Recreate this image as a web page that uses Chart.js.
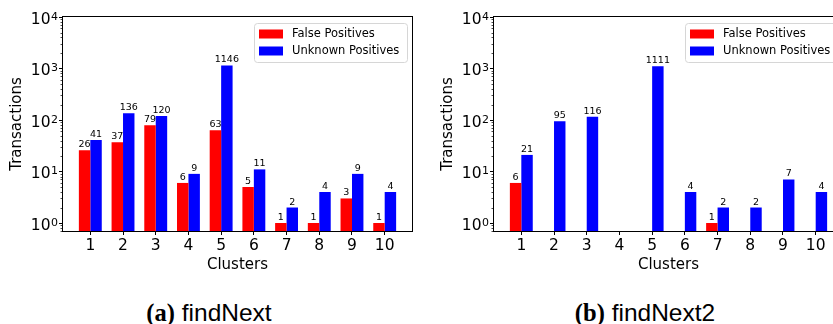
<!DOCTYPE html>
<html>
<head>
<meta charset="utf-8">
<script src="https://cdn.jsdelivr.net/npm/chart.js@4.4.0/dist/chart.umd.min.js"></script>
<style>
  html, body { margin: 0; padding: 0; background: #fff; overflow: hidden; width: 833px; height: 324px; }
  .panel { position: absolute; top: 0; }
  .cap { position: absolute; top: 301px; transform: translateX(-50%); font-family: "Liberation Sans", sans-serif; font-size: 24.5px; line-height: 24px; color: #000; white-space: nowrap; }
  .cap b { font-family: "Liberation Serif", serif; font-weight: bold; }
</style>
</head>
<body>
<canvas id="chartA" class="panel" style="left:0px" width="420" height="280"></canvas>
<canvas id="chartB" class="panel" style="left:431px" width="420" height="280"></canvas>
<div class="cap" style="left:209px"><b>(a)</b> findNext</div>
<div class="cap" style="left:645px"><b>(b)</b> findNext2</div>
<script>
// data
const clusters = [1, 2, 3, 4, 5, 6, 7, 8, 9, 10];
const seriesNames = ['False Positives', 'Unknown Positives'];
const falsePosA = [26, 37, 79, 6, 63, 5, 1, 1, 3, 1];
const unknownPosA = [41, 136, 120, 9, 1146, 11, 2, 4, 9, 4];
const falsePosB = [6, 0, 0, 0, 0, 0, 1, 0, 0, 0];
const unknownPosB = [21, 95, 116, 0, 1111, 4, 2, 2, 7, 4];
const yTicks = [1, 10, 100, 1000, 10000];

const colors = ['#ff0000', '#0000ff'];
const FONT = 'DejaVu Sans';

// frame, minor ticks and 10^n labels on the log axis
const framePlugin = {
  id: 'frame',
  afterDatasetsDraw(chart) {
    const { ctx, chartArea: ca, scales } = chart;
    const y = scales.y;
    ctx.save();
    ctx.strokeStyle = '#000';
    ctx.lineWidth = 1;
    ctx.strokeRect(Math.round(ca.left) - 0.5, Math.round(ca.top) - 0.5,
      Math.round(ca.right - ca.left) + 1, Math.round(ca.bottom - ca.top) + 1);
    ctx.lineWidth = 0.7;
    ctx.beginPath();
    for (let d = 0.1; d < 10000; d *= 10) {
      for (let k = 2; k <= 9; k++) {
        const v = k * d;
        if (v < y.min || v > y.max) continue;
        const py = Math.round(y.getPixelForValue(v)) + 0.5;
        ctx.moveTo(ca.left - 0.5, py);
        ctx.lineTo(ca.left - 2.5, py);
      }
    }
    ctx.stroke();

    // tick labels like mathtext: 10 with a raised exponent
    ctx.fillStyle = '#000';
    ctx.textAlign = 'right';
    ctx.textBaseline = 'alphabetic';
    yTicks.forEach(v => {
      const py = y.getPixelForValue(v);
      const e = String(Math.round(Math.log10(v)));
      const xr = ca.left - 5;
      ctx.font = '11px "' + FONT + '"';
      const sw = ctx.measureText(e).width;
      ctx.fillText(e, xr, py + 2.5);
      ctx.font = '15.5px "' + FONT + '"';
      ctx.fillText('10', xr - sw - 0.5, py + 6.5);
    });
    ctx.restore();
  }
};

// numbers above the bars
const valuePlugin = {
  id: 'values',
  afterDatasetsDraw(chart) {
    const { ctx } = chart;
    ctx.save();
    ctx.font = '9.5px "' + FONT + '"';
    ctx.fillStyle = '#000';
    ctx.textAlign = 'center';
    ctx.textBaseline = 'alphabetic';
    chart.data.datasets.forEach((ds, i) => {
      const meta = chart.getDatasetMeta(i);
      meta.data.forEach((bar, j) => {
        const v = ds.data[j].y;
        if (v == null) return;
        ctx.fillText(String(v), bar.x, bar.y - 3);
      });
    });
    ctx.restore();
  }
};

// matplotlib-like legend in the upper right
const legendPlugin = {
  id: 'mplLegend',
  afterDraw(chart) {
    const { ctx, chartArea: ca } = chart;
    const w = 153, h = 39;
    const x = ca.right - 5 - w, y = ca.top + 6;
    ctx.save();
    ctx.beginPath();
    ctx.roundRect(x + 0.5, y + 0.5, w, h, 3);
    ctx.fillStyle = 'rgba(255,255,255,0.8)';
    ctx.fill();
    ctx.strokeStyle = '#d6d6d6';
    ctx.lineWidth = 1;
    ctx.stroke();
    ctx.font = '11.5px "' + FONT + '"';
    ctx.textBaseline = 'middle';
    chart.data.datasets.forEach((ds, i) => {
      const cy = y + 11 + i * 17;
      ctx.fillStyle = ds.backgroundColor;
      ctx.fillRect(x + 5, cy - 4.5, 24, 9);
      ctx.fillStyle = '#000';
      ctx.fillText(ds.label, x + 38, cy + 0.5);
    });
    ctx.restore();
  }
};

function makeChart(id, fp, up) {
  const pts = arr => clusters.map((c, i) => ({ x: c, y: arr[i] > 0 ? arr[i] : null }));
  return new Chart(document.getElementById(id), {
    type: 'bar',
    data: {
      datasets: [
        { label: seriesNames[0], data: pts(fp), backgroundColor: colors[0] },
        { label: seriesNames[1], data: pts(up), backgroundColor: colors[1] }
      ]
    },
    options: {
      responsive: false,
      animation: false,
      categoryPercentage: 0.7,
      barPercentage: 1.0,
      layout: { padding: { left: 0, top: 17, right: 8, bottom: 0 } },
      plugins: { legend: { display: false }, tooltip: { enabled: false } },
      scales: {
        x: {
          type: 'linear', min: 0.165, max: 10.835, offset: false,
          afterBuildTicks: s => { s.ticks = clusters.map(v => ({ value: v })); },
          afterFit: s => { s.height = 49; },
          grid: { offset: false, drawOnChartArea: false, drawTicks: true, tickLength: 4, tickColor: '#000', tickWidth: 1 },
          border: { display: false },
          ticks: { font: { family: FONT, size: 15.5 }, color: '#000', padding: 2, maxRotation: 0, autoSkip: false },
          title: { display: true, text: 'Clusters', color: '#000', font: { family: FONT, size: 15 }, padding: { top: 0, bottom: 6 } }
        },
        y: {
          type: 'logarithmic', min: 0.7, max: 10000,
          afterBuildTicks: s => { s.ticks = yTicks.map(v => ({ value: v, major: true })); },
          afterFit: s => { s.width = 63; },
          grid: { drawOnChartArea: false, drawTicks: true, tickLength: 4, tickColor: '#000', tickWidth: 1 },
          border: { display: false },
          ticks: { autoSkip: false, callback: () => '' },
          title: { display: true, text: 'Transactions', color: '#000', font: { family: FONT, size: 15 }, padding: { top: 8, bottom: 0 } }
        }
      }
    },
    plugins: [framePlugin, valuePlugin, legendPlugin]
  });
}

makeChart('chartA', falsePosA, unknownPosA);
makeChart('chartB', falsePosB, unknownPosB);
</script>
</body>
</html>
